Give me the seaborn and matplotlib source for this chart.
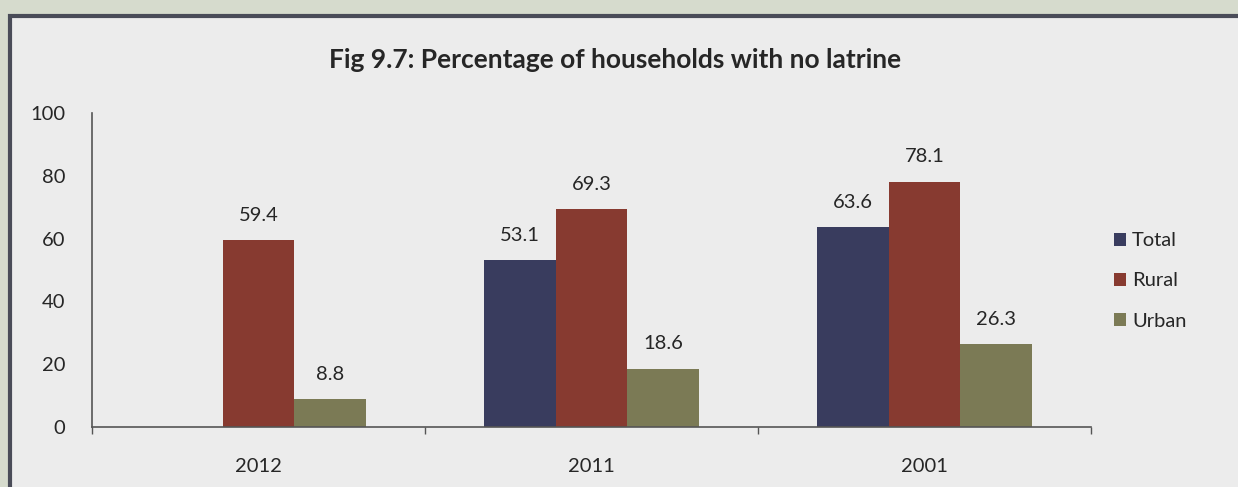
import pandas as pd
import matplotlib
matplotlib.use("Agg")
import matplotlib.pyplot as plt
from matplotlib.patches import Rectangle
import seaborn as sns

# dados do grafico
years = ["2012", "2011", "2001"]
areas = ["Total", "Rural", "Urban"]
total = [None, 53.1, 63.6]   # 2012 sem valor para Total
rural = [59.4, 69.3, 78.1]
urban = [8.8, 18.6, 26.3]
bar_colors = ["#393c5e", "#873a30", "#7b7a55"]

rows = []
for i, y in enumerate(years):
    for area, vals in zip(areas, [total, rural, urban]):
        if vals[i] is not None:
            rows.append({"year": y, "area": area, "pct": vals[i]})
df = pd.DataFrame(rows)

sns.set_theme(style="white")
plt.rcParams["font.family"] = ["Lato", "DejaVu Sans"]

fig = plt.figure(figsize=(12.38, 4.87), dpi=100)
fig.patch.set_facecolor("#d6dbcd")
# painel interno com moldura escura
fig.patches.append(Rectangle((10 / 1238, -0.05), 1.05, 1 - 16 / 487 + 0.05,
                             transform=fig.transFigure, facecolor="#ececec",
                             edgecolor="#4a4c58", linewidth=3, zorder=-5))

ax = fig.add_axes([92 / 1238, 1 - 427 / 487, (1091 - 92) / 1238, (427 - 113) / 487])
ax.set_facecolor("none")

sns.barplot(data=df, x="year", y="pct", hue="area", order=years, hue_order=areas,
            palette=bar_colors, width=0.645, saturation=1, linewidth=0,
            edgecolor="none", ax=ax)

for cont in ax.containers:
    ax.bar_label(cont, fmt="%.1f", padding=12, fontsize=14.5, color="#262626")

ax.set_ylim(0, 100)
ax.set_xlim(-0.5, 2.5)
ax.set_yticks([0, 20, 40, 60, 80, 100])
ax.set_xticks([-0.5, 0.5, 1.5, 2.5], minor=True)
ax.set_xlabel("")
ax.set_ylabel("")
ax.tick_params(axis="both", labelsize=14.5, colors="#262626")
ax.tick_params(axis="y", which="major", direction="out", length=5, color="#555555", pad=14)
ax.tick_params(axis="x", which="major", length=0, pad=22)
ax.tick_params(axis="x", which="minor", bottom=True, direction="out", length=5, color="#555555")
for s in ["top", "right"]:
    ax.spines[s].set_visible(False)
for s in ["left", "bottom"]:
    ax.spines[s].set_color("#555555")
    ax.spines[s].set_linewidth(1.2)

ax.legend(title=None, loc="center left", bbox_to_anchor=(1.005, 0.465), frameon=False,
          fontsize=14.5, handlelength=0.6, handleheight=0.6, handletextpad=0.3,
          labelspacing=1.15)

fig.text(0.497, 1 - 60 / 487, "Fig 9.7: Percentage of households with no latrine",
         ha="center", va="center", fontsize=19, fontweight="bold", color="#262626")

fig.savefig("out.png", dpi=100, facecolor=fig.get_facecolor())
